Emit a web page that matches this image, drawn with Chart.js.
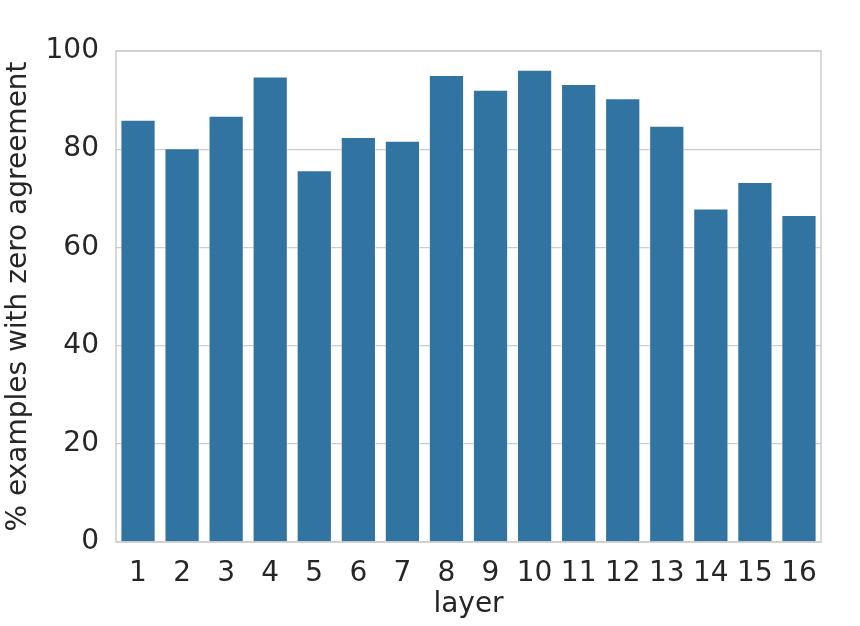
<!DOCTYPE html>
<html>
<head>
<meta charset="utf-8">
<script src="https://cdn.jsdelivr.net/npm/chart.js@4"></script>
<style>
  html, body { margin: 0; padding: 0; background: #fff; }
  #wrap { width: 860px; height: 626px; }
</style>
</head>
<body>
<div id="wrap"><canvas id="chart" width="860" height="626"></canvas></div>
<script>
// donnees
const layers = ["1","2","3","4","5","6","7","8","9","10","11","12","13","14","15","16"];
const zeroAgreement = [86.0, 80.2, 86.8, 94.8, 75.7, 82.5, 81.7, 95.1, 92.1, 96.2, 93.3, 90.4, 84.8, 67.9, 73.3, 66.6];
const yTicks = [0, 20, 40, 60, 80, 100];

const textColor = "#262626";
const gridColor = "#cccccc";
const barColor = "#3274a1";
const police = { family: "DejaVu Sans", size: 28 };

// cadre autour de la zone du graphique (style seaborn)
const framePlugin = {
  id: "frame",
  afterDatasetsDraw(chart) {
    const a = chart.chartArea;
    const ctx = chart.ctx;
    ctx.save();
    ctx.strokeStyle = gridColor;
    ctx.lineWidth = 1.5;
    ctx.strokeRect(a.left, a.top, a.right - a.left, a.bottom - a.top);
    ctx.restore();
  }
};

new Chart(document.getElementById("chart"), {
  type: "bar",
  data: {
    labels: layers,
    datasets: [{
      data: zeroAgreement,
      backgroundColor: barColor,
      borderColor: "rgba(255,255,255,0.5)",
      borderWidth: 1,
      barPercentage: 0.8,
      categoryPercentage: 1.0
    }]
  },
  options: {
    responsive: false,
    animation: false,
    layout: { padding: { top: 51, right: 39, left: 0, bottom: 0 } },
    plugins: { legend: { display: false }, tooltip: { enabled: false } },
    scales: {
      x: {
        grid: { display: false, drawTicks: false },
        border: { display: false },
        ticks: { color: textColor, font: police, padding: 15, maxRotation: 0, autoSkip: false },
        title: { display: true, text: "layer", color: textColor, font: police, padding: { top: 0 } },
        afterFit(s) { s.height = 84; }
      },
      y: {
        min: 0,
        max: 100,
        afterBuildTicks(s) { s.ticks = yTicks.map(v => ({ value: v })); },
        grid: { color: gridColor, lineWidth: 1.2, drawTicks: false },
        border: { display: false },
        ticks: { color: textColor, font: police, padding: 17 },
        title: { display: true, text: "% examples with zero agreement", color: textColor, font: police, padding: { top: 2, bottom: 0 } },
        afterFit(s) { s.width = 116; }
      }
    }
  },
  plugins: [framePlugin]
});
</script>
</body>
</html>
